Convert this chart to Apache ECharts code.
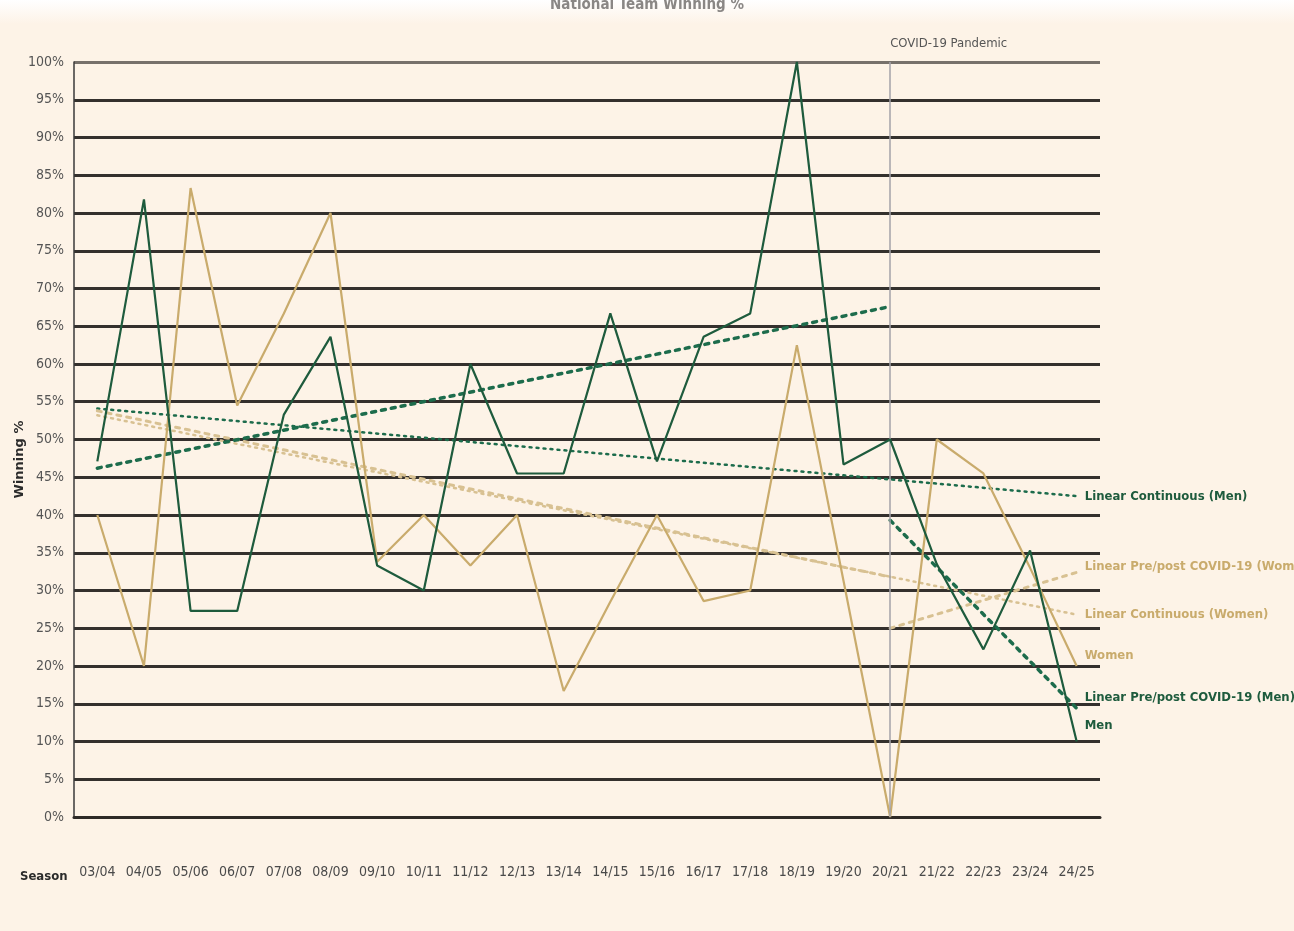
<!DOCTYPE html>
<html lang="en">
<head>
<meta charset="UTF-8">
<title>National Team Winning %</title>
<style>
    *{margin:0;}
    html,body{height:100%;background:#fdf3e7;}
    #chart{width:1294px;height:931px;}
</style>
<script src="https://cdn.jsdelivr.net/npm/echarts@6.0.0/dist/echarts.min.js"></script>
</head>
<body>
<div id="chart"></div>
<script>
const seasons = ['03/04','04/05','05/06','06/07','07/08','08/09','09/10','10/11','11/12','12/13','13/14',
    '14/15','15/16','16/17','17/18','18/19','19/20','20/21','21/22','22/23','23/24','24/25'];
const men   = [47.1, 81.8, 27.3, 27.3, 53.3, 63.6, 33.3, 30.0, 60.0, 45.5, 45.5,
    66.7, 47.1, 63.6, 66.7, 100, 46.7, 50.0, 33.5, 22.2, 35.3, 10.0];
const women = [40.0, 20.0, 83.3, 54.5, 66.7, 80.0, 33.8, 40.0, 33.3, 40.0, 16.7,
    28.5, 40.0, 28.6, 30.0, 62.5, 31.3, 0, 50.0, 45.5, 33.0, 20.0];
// trend lines, [season index, value] at each end
const menContinuous   = [[0, 54.1], [21, 42.5]];
const womenContinuous = [[0, 53.2], [21, 26.8]];
const menPre    = [[0, 46.2], [17, 67.6]];
const menPost   = [[17, 39.3], [21, 14.4]];
const womenPre  = [[0, 53.8], [17, 31.8]];
const womenPost = [[17, 25.0], [21, 32.4]];
const covidSeason = '20/21';

const narrow = "'Liberation Sans Narrow','DejaVu Sans Condensed',sans-serif";
const green = '#1e5b3d', greenTrend = '#1d6c4c', tan = '#c9ab6c', tanTrend = '#d8c192';

// 21 grid lines, the top one lighter
const gridColors = [];
for (let i = 0; i < 21; i++) gridColors.push(i === 20 ? '#77716b' : '#34302d');

function endLabel(text, color, dy) {
    return {
        show: true, formatter: text, color: color, fontFamily: narrow,
        fontWeight: 'bold', fontSize: 13, distance: 8, offset: [0, dy]
    };
}

const chart = echarts.init(document.getElementById('chart'));
chart.setOption({
    backgroundColor: '#fdf3e7',
    animation: false,
    graphic: [{
        type: 'rect', left: 0, top: 0, z: -1,
        shape: {width: 1294, height: 24},
        style: {fill: new echarts.graphic.LinearGradient(0, 0, 0, 1, [
            {offset: 0, color: '#ffffff'}, {offset: 1, color: '#fdf3e7'}])}
    }],
    title: [
        {
            text: 'National Team Winning %', left: 'center', top: -7,
            textStyle: {fontSize: 15, fontWeight: 'bold', color: '#8a8785', fontFamily: narrow}
        },
        {
            text: 'Season', left: 15, top: 865,
            textStyle: {fontSize: 13, fontWeight: 'bold', color: '#2b2b2b', fontFamily: narrow}
        }
    ],
    grid: {left: 74, right: 194, top: 62, bottom: 114, outerBoundsMode: 'none'},
    xAxis: {
        type: 'category',
        data: seasons,
        boundaryGap: true,
        axisLine: {lineStyle: {color: '#2e2a27', width: 3}},
        axisTick: {inside: true, alignWithLabel: true, interval: 0, length: 22,
            lineStyle: {color: '#2e2a27', width: 1.5}},
        axisLabel: {interval: 0, margin: 48, fontSize: 14, color: '#4a4a4a', fontFamily: narrow},
        splitLine: {show: false}
    },
    yAxis: {
        type: 'value',
        min: 0, max: 100, interval: 5,
        name: 'Winning %',
        nameLocation: 'middle',
        nameRotate: 90,
        nameGap: 48,
        nameMoveOverlap: false,
        nameTextStyle: {fontFamily: 'DejaVu Sans', fontWeight: 'bold', fontSize: 13,
            color: '#2b2b2b', padding: [0, 40, 0, 0]},
        axisLine: {show: true, lineStyle: {color: '#3a3a3a', width: 1.5}},
        axisTick: {show: false},
        axisLabel: {formatter: '{value}%', fontSize: 14, color: '#555', margin: 10, fontFamily: narrow},
        splitLine: {lineStyle: {color: gridColors, width: 3}}
    },
    series: [
        {
            name: 'Linear Continuous (Men)', type: 'line', data: menContinuous,
            showSymbol: false, lineStyle: {color: greenTrend, width: 2.5, type: [2, 5], cap: 'round'},
            endLabel: endLabel('Linear Continuous (Men)', green, 0), z: 3
        },
        {
            name: 'Linear Continuous (Women)', type: 'line', data: womenContinuous,
            showSymbol: false, lineStyle: {color: tanTrend, width: 2.5, type: [2, 5], cap: 'round'},
            endLabel: endLabel('Linear Continuous (Women)', tan, 0), z: 3
        },
        {
            name: 'Linear Pre COVID-19 (Women)', type: 'line', data: womenPre,
            showSymbol: false, lineStyle: {color: tanTrend, width: 3, type: [4, 6], cap: 'round'}, z: 3
        },
        {
            name: 'Linear Pre/post COVID-19 (Women)', type: 'line', data: womenPost,
            showSymbol: false, lineStyle: {color: tanTrend, width: 3, type: [4, 6], cap: 'round'},
            endLabel: endLabel('Linear Pre/post COVID-19 (Women)', tan, -6), z: 3
        },
        {
            name: 'Linear Pre COVID-19 (Men)', type: 'line', data: menPre,
            showSymbol: false, lineStyle: {color: greenTrend, width: 3.5, type: [4, 6], cap: 'round'}, z: 3
        },
        {
            name: 'Linear Pre/post COVID-19 (Men)', type: 'line', data: menPost,
            showSymbol: false, lineStyle: {color: greenTrend, width: 3.5, type: [4, 6], cap: 'round'},
            endLabel: endLabel('Linear Pre/post COVID-19 (Men)', green, -11), z: 3
        },
        {
            name: 'Women', type: 'line', data: women,
            showSymbol: false, lineStyle: {color: tan, width: 2.2},
            endLabel: endLabel('Women', tan, -10), z: 4
        },
        {
            name: 'Men', type: 'line', data: men,
            showSymbol: false, lineStyle: {color: green, width: 2.2},
            endLabel: endLabel('Men', green, -16), z: 5,
            markLine: {
                silent: true, symbol: 'none', animation: false,
                lineStyle: {color: '#a3a2a8', width: 1.5, type: 'solid'},
                label: {show: true, position: 'end', formatter: 'COVID-19 Pandemic', align: 'left',
                    distance: 12, color: '#555', fontSize: 13, fontFamily: narrow},
                data: [{xAxis: covidSeason}]
            }
        }
    ]
});
window.onresize = chart.resize;
</script>
</body>
</html>
